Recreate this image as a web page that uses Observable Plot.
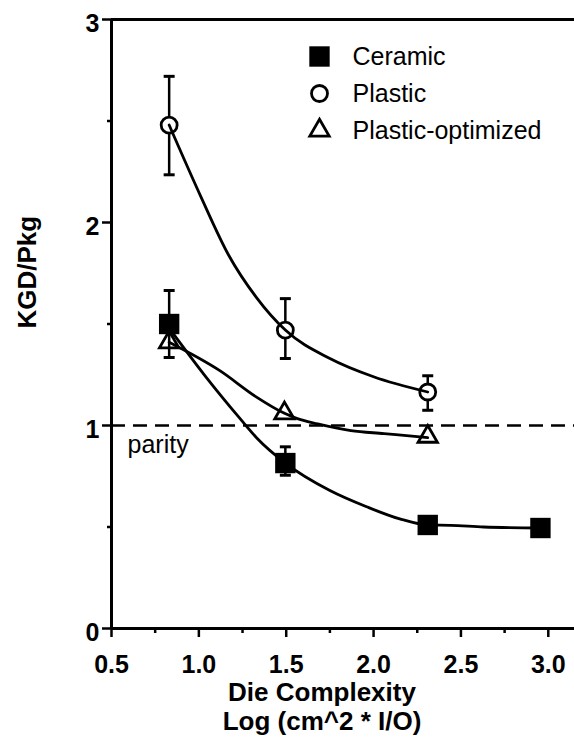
<!DOCTYPE html>
<html><head><meta charset="utf-8">
<script src="https://cdn.jsdelivr.net/npm/d3@7"></script>
<script src="https://cdn.jsdelivr.net/npm/@observablehq/plot@0.6"></script>
<style>body{margin:0;background:#fff;color:#000;}</style>
</head><body><div id="chart"></div>
<script>
// ---- data ----
const seriesNames = ["Ceramic", "Plastic", "Plastic-optimized"];

const ceramicX = [0.83, 1.495, 2.31, 2.955];
const ceramicY = [1.50, 0.815, 0.51, 0.495];
const ceramicErrLo = [1.335, 0.755, null, null];
const ceramicErrHi = [1.665, 0.895, null, null];

const plasticX = [0.83, 1.495, 2.31];
const plasticY = [2.48, 1.47, 1.165];
const plasticErrLo = [2.235, 1.33, 1.075];
const plasticErrHi = [2.72, 1.625, 1.245];

const optX = [0.83, 1.49, 2.31];
const optY = [1.41, 1.06, 0.945];

// fitted curves as drawn in the picture
const ceramicFitX = [0.83, 1.04, 1.23, 1.33, 1.495, 1.75, 1.96, 2.15, 2.31, 2.44, 2.63, 2.955];
const ceramicFitY = [1.48, 1.24, 1.04, 0.94, 0.815, 0.68, 0.60, 0.54, 0.51, 0.508, 0.50, 0.495];
const plasticFitX = [0.83, 1.01, 1.17, 1.33, 1.495, 1.75, 2.0, 2.31];
const plasticFitY = [2.48, 2.13, 1.84, 1.63, 1.47, 1.33, 1.24, 1.165];
const optFitX = [0.83, 1.12, 1.33, 1.49, 1.56, 1.68, 1.87, 2.06, 2.25, 2.31];
const optFitY = [1.41, 1.27, 1.14, 1.06, 1.035, 1.008, 0.975, 0.96, 0.945, 0.94];

const parityY = 1;
const parityLabel = "parity";
const xTicks = [0.5, 1.0, 1.5, 2.0, 2.5, 3.0];
const xMinorTicks = [0.75, 1.25, 1.75, 2.25, 2.75];
const yTicks = [0, 1, 2, 3];
const yMinorTicks = [0.5, 1.5, 2.5];
const xDomain = [0.5, 3.15];
const yDomain = [0, 3];
const xTitle = "Die Complexity\nLog (cm^2 * I/O)";
const yTitle = "KGD/Pkg";

// ---- build tables ----
const rows = (xs, ys) => xs.map((x, i) => ({x, y: ys[i]}));
const errRows = (xs, lo, hi) => xs.map((x, i) => ({x, lo: lo[i], hi: hi[i]})).filter(d => d.lo != null);
const ceramic = rows(ceramicX, ceramicY);
const plastic = rows(plasticX, plasticY);
const opt = rows(optX, optY);
const errs = [...errRows(ceramicX, ceramicErrLo, ceramicErrHi), ...errRows(plasticX, plasticErrLo, plasticErrHi)];

const cap = {draw(ctx, size) { const w = Math.sqrt(size / Math.PI); ctx.moveTo(-w, 0); ctx.lineTo(w, 0); }};
const font = "'Liberation Sans', Arial, Helvetica, sans-serif";
const LW = 2.8;

const sym = [
  {symbol: "square", r: 11.5, fill: "black", stroke: "none"},
  {symbol: "circle", r: 8, fill: "white", stroke: "black", strokeWidth: LW},
  {symbol: "triangle", r: 7.2, fill: "none", stroke: "black", strokeWidth: LW}
];

const legendMarks = seriesNames.flatMap((name, i) => [
  Plot.dot([name], {frameAnchor: "top-left", dx: 208, dy: 37 + 37 * i, ...sym[i]}),
  Plot.text([name], {frameAnchor: "top-left", dx: 241, dy: 37 + 37 * i, text: d => d,
    textAnchor: "start", lineAnchor: "middle", fontSize: 25})
]);

const chart = Plot.plot({
  width: 574,
  height: 740,
  marginLeft: 111,
  marginRight: 0,
  marginTop: 19,
  marginBottom: 112,
  x: {domain: xDomain},
  y: {domain: yDomain},
  style: {fontFamily: font, background: "white", color: "black", overflow: "visible"},
  marks: [
    Plot.ruleY([parityY], {stroke: "black", strokeWidth: 2.6, strokeDasharray: "14,8"}),
    Plot.ruleX([xDomain[0]], {stroke: "black", strokeWidth: 3}),
    Plot.ruleY([yDomain[0], yDomain[1]], {stroke: "black", strokeWidth: 3}),
    Plot.axisX(xTicks, {tickSize: 9, tickPadding: 18, tickFormat: d3.format(".1f"), fontSize: 25, fontWeight: "bold", strokeWidth: 2.5, label: null}),
    Plot.axisX(xMinorTicks, {tickSize: 5, tickFormat: () => "", strokeWidth: 2.5, label: null}),
    Plot.axisY(yTicks, {tickSize: 9, tickFormat: () => "", strokeWidth: 2.5, label: null}),
    Plot.axisY(yTicks, {tickSize: 0, tickPadding: 12, dy: 4, tickFormat: d3.format("d"), fontSize: 25, fontWeight: "bold", label: null}),
    Plot.axisY(yMinorTicks, {tickSize: 4, tickFormat: () => "", strokeWidth: 2.5, label: null}),
    Plot.ruleX(errs, {x: "x", y1: "lo", y2: "hi", stroke: "black", strokeWidth: 2.5}),
    Plot.dot(errs, {x: "x", y: "hi", symbol: cap, r: 5.5, stroke: "black", strokeWidth: 3}),
    Plot.dot(errs, {x: "x", y: "lo", symbol: cap, r: 5.5, stroke: "black", strokeWidth: 3}),
    Plot.dot(plastic, {x: "x", y: "y", ...sym[1]}),
    Plot.line(rows(plasticFitX, plasticFitY), {x: "x", y: "y", curve: "monotone-x", stroke: "black", strokeWidth: LW}),
    Plot.line(rows(ceramicFitX, ceramicFitY), {x: "x", y: "y", curve: "monotone-x", stroke: "black", strokeWidth: LW}),
    Plot.line(rows(optFitX, optFitY), {x: "x", y: "y", curve: "monotone-x", stroke: "black", strokeWidth: LW}),
    Plot.dot(ceramic, {x: "x", y: "y", ...sym[0]}),
    Plot.dot(opt, {x: "x", y: "y", ...sym[2]}),
    Plot.text([parityLabel], {x: () => xDomain[0], y: () => parityY, text: d => d, dx: 16, dy: 10,
      textAnchor: "start", lineAnchor: "top", fontSize: 25}),
    Plot.text([xTitle], {frameAnchor: "bottom", text: d => d, dx: -21, dy: 53, lineAnchor: "top",
      lineHeight: 1.08, fontSize: 26, fontWeight: "bold"}),
    Plot.text([yTitle], {frameAnchor: "left", text: d => d, dx: -84, dy: 4.5, rotate: -90,
      fontSize: 26, fontWeight: "bold"}),
    ...legendMarks
  ]
});
document.getElementById("chart").appendChild(chart);
</script>
</body></html>
